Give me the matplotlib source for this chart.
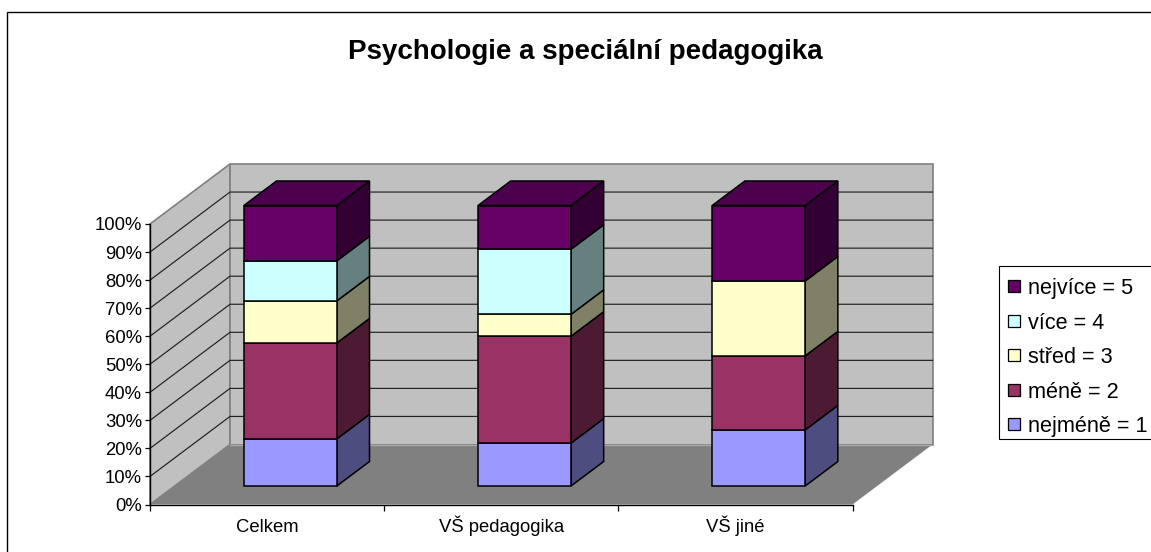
import matplotlib
matplotlib.use("Agg")
import matplotlib.pyplot as plt
from matplotlib.lines import Line2D
from matplotlib.patches import Polygon, Rectangle
from matplotlib.colors import to_rgb

plt.rcParams['font.family'] = ['Liberation Sans', 'DejaVu Sans']

categories = ['Celkem', 'VŠ pedagogika', 'VŠ jiné']
series_names = ['nejméně = 1', 'méně = 2', 'střed = 3', 'více = 4', 'nejvíce = 5']
nejmene = [16.8, 15.3, 20.0]
mene = [34.2, 38.1, 26.4]
stred = [15.0, 7.8, 26.7]
vice = [14.3, 23.2, 0.0]
nejvice = [19.7, 15.6, 26.9]
colors = ['#9999FF', '#993366', '#FFFFCC', '#CCFFFF', '#660066']
yticks = [0, 10, 20, 30, 40, 50, 60, 70, 80, 90, 100]

W, H = 1151, 552
fig = plt.figure(figsize=(W / 100, H / 100), dpi=100)
fig.patch.set_facecolor('white')

# outer chart frame: only the left and top edges are inside the picture
fig.add_artist(Line2D([7.5 / W, 7.5 / W, 1], [0, 1 - 11.5 / H, 1 - 11.5 / H], transform=fig.transFigure,
                      color='black', lw=1.0, solid_joinstyle='miter'))

L, R, B, T = 150, 852.5, 504.5, 224
ax = fig.add_axes([L / W, (H - B) / H, (R - L) / W, (B - T) / H])
ax.set_xlim(0, 3)
ax.set_ylim(0, 100)
ax.patch.set_visible(False)
for s in ('top', 'right'):
    ax.spines[s].set_visible(False)
for s in ('left', 'bottom'):
    ax.spines[s].set_linewidth(1.0)
    ax.spines[s].set_zorder(20)

px_x = (R - L) / 3
px_y = (B - T) / 100
DX = 80 / px_x
DY = 60 / px_y


def oblique(x, y, d):
    return (x + d * DX, y + d * DY)


def poly(pts, fc, ec='none', lw=0.0, z=1):
    ax.add_patch(Polygon(pts, closed=True, fc=fc, ec=ec, lw=lw, zorder=z, clip_on=False,
                         joinstyle='miter'))


# walls and floor
poly([oblique(0, 0, 0), oblique(0, 100, 0), oblique(0, 100, 1), oblique(0, 0, 1)], '#C0C0C0', '#808080', 1.2)
poly([oblique(0, 0, 1), oblique(3, 0, 1), oblique(3, 100, 1), oblique(0, 100, 1)], '#C0C0C0', '#808080', 1.2)
poly([oblique(0, 0, 0), oblique(3, 0, 0), oblique(3, 0, 1), oblique(0, 0, 1)], '#808080', 'none', 0)

# gridlines
for v in yticks[1:-1]:
    a, b, c = oblique(0, v, 0), oblique(0, v, 1), oblique(3, v, 1)
    ax.plot([a[0], b[0], c[0]], [a[1], b[1], c[1]], color='#202020', lw=0.85, zorder=2,
            clip_on=False, solid_joinstyle='miter')
a, b = oblique(0, 0, 1), oblique(3, 0, 1)
ax.plot([a[0], b[0]], [a[1], b[1]], color='#A8A8A8', lw=1, zorder=2, clip_on=False)

# stacked bars
values = [nejmene, mene, stred, vice, nejvice]
bw = 93 / px_x
d0, d1 = 18.5 / 60, 43 / 60
z = 3
for i in range(len(categories)):
    x0 = i + 0.5 - bw / 2 - 0.006
    x1 = x0 + bw
    bottom = 0.0
    for j, vals in enumerate(values):
        v = vals[i]
        if v <= 0:
            continue
        top = bottom + v
        rgb = to_rgb(colors[j])
        side = tuple(c * 0.5 for c in rgb)
        poly([oblique(x1, bottom, d0), oblique(x1, bottom, d1), oblique(x1, top, d1), oblique(x1, top, d0)],
             side, 'black', 1.1, z)
        poly([oblique(x0, bottom, d0), oblique(x1, bottom, d0), oblique(x1, top, d0), oblique(x0, top, d0)],
             rgb, 'black', 1.1, z + 1)
        last_top, last_rgb = top, rgb
        bottom = top
    topc = tuple(c * 0.75 for c in last_rgb)
    poly([oblique(x0, last_top, d0), oblique(x1, last_top, d0), oblique(x1, last_top, d1), oblique(x0, last_top, d1)],
         topc, 'black', 1.1, z + 1)
    z += 2

# axes
ax.set_yticks(yticks)
ax.set_yticklabels([f'{v}%' for v in yticks], fontsize=13.3, color='black')
ax.set_xticks([0, 1, 2, 3])
ax.set_xticklabels([])
ax.set_xticks([0.5, 1.5, 2.5], minor=True)
ax.set_xticklabels(categories, minor=True, fontsize=13.3, color='black', va='baseline')
ax.tick_params(axis='x', which='minor', length=0, pad=19.8)
ax.tick_params(axis='x', which='major', length=4, width=0.9)
ax.tick_params(axis='y', length=3.5, width=0.9, pad=2.2)
for lab in ax.get_xticklabels(minor=True):
    lab.set_va('baseline')

fig.text(585.5 / W, 1 - 52 / H, 'Psychologie a speciální pedagogika', fontsize=20, fontweight='bold',
         ha='center', va='center', color='black')

# legend
fig.add_artist(Rectangle((998.5 / W, 1 - 438.5 / H), 160 / W, 172.5 / H, transform=fig.transFigure,
                         fc='white', ec='black', lw=0.8))
ys = [286, 321, 355, 390, 424]
for name, col, y in zip(series_names[::-1], colors[::-1], ys):
    fig.add_artist(Rectangle((1008 / W, 1 - (y + 6) / H), 12 / W, 12 / H, transform=fig.transFigure,
                             fc=col, ec='black', lw=0.9))
    fig.text(1028 / W, 1 - y / H, name, fontsize=15.6, va='center_baseline', ha='left', color='black')

fig.savefig('out.png', dpi=100)
